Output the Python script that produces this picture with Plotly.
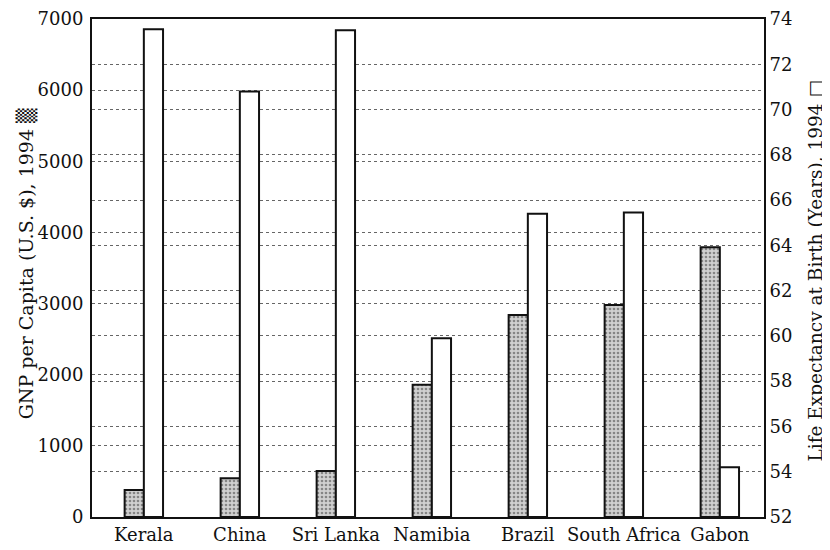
import plotly.graph_objects as go

categories = ["Kerala", "China", "Sri Lanka", "Namibia", "Brazil", "South Africa", "Gabon"]
gnp_per_capita = [380, 545, 645, 1860, 2840, 2980, 3790]
life_expectancy = [73.55, 70.8, 73.5, 59.9, 65.4, 65.45, 54.2]
gnp_ticks = [0, 1000, 2000, 3000, 4000, 5000, 6000, 7000]
le_ticks = [52, 54, 56, 58, 60, 62, 64, 66, 68, 70, 72, 74]

FONT = "DejaVu Serif"
INK = "#111111"

fig = go.Figure()
fig.add_trace(go.Bar(
    x=categories, y=gnp_per_capita, name="GNP per Capita",
    width=0.2, offset=-0.2,
    marker=dict(
        color="#c4c4c4",
        line=dict(color=INK, width=2),
        pattern=dict(shape=".", fgcolor="#3a3a3a", bgcolor="#d0d0d0", size=4, solidity=0.35),
    ),
    yaxis="y",
))
fig.add_trace(go.Bar(
    x=categories, y=[v - le_ticks[0] for v in life_expectancy], base=le_ticks[0],
    name="Life Expectancy",
    width=0.2, offset=0.0,
    marker=dict(color="white", line=dict(color=INK, width=2)),
    yaxis="y2",
))

fig.update_layout(
    width=822, height=542,
    margin=dict(l=84, r=66, t=11, b=33, autoexpand=False),
    paper_bgcolor="white", plot_bgcolor="white",
    showlegend=False,
    font=dict(family=FONT, color=INK, size=15),
    xaxis=dict(
        type="category", range=[-0.54, 6.46], automargin=False,
        showline=True, linecolor=INK, linewidth=2, mirror=True,
        ticks="", showgrid=False, ticklabeloverflow="allow",
        tickfont=dict(family=FONT, size=18, color=INK),
    ),
    yaxis=dict(
        range=[0, 7000], tickvals=gnp_ticks, automargin=False,
        showline=True, linecolor=INK, linewidth=2, mirror=True,
        ticks="", showgrid=True, gridcolor="#666666", gridwidth=1, griddash="dot",
        zeroline=False, ticklabelstandoff=3, ticklabeloverflow="allow",
        tickfont=dict(family=FONT, size=18, color=INK),
    ),
    yaxis2=dict(
        range=[52, 74], tickvals=le_ticks, overlaying="y", side="right", automargin=False,
        showline=True, linecolor=INK, linewidth=2,
        ticks="", showgrid=True, gridcolor="#666666", gridwidth=1, griddash="dot",
        zeroline=False, ticklabelstandoff=0, ticklabeloverflow="allow",
        tickfont=dict(family=FONT, size=18, color=INK),
    ),
    annotations=[
        dict(text="GNP per Capita (U.S. $), 1994 ▒", xref="paper", yref="paper",
             x=-0.097, y=0.509, xanchor="center", yanchor="middle",
             textangle=-90, showarrow=False,
             font=dict(family=FONT, size=19, color=INK)),
        dict(text="Life Expectancy at Birth (Years), 1994 □", xref="paper", yref="paper",
             x=1.076, y=0.495, xanchor="center", yanchor="middle",
             textangle=-90, showarrow=False,
             font=dict(family=FONT, size=18.5, color=INK)),
    ],
)

fig.write_html("out.html")
